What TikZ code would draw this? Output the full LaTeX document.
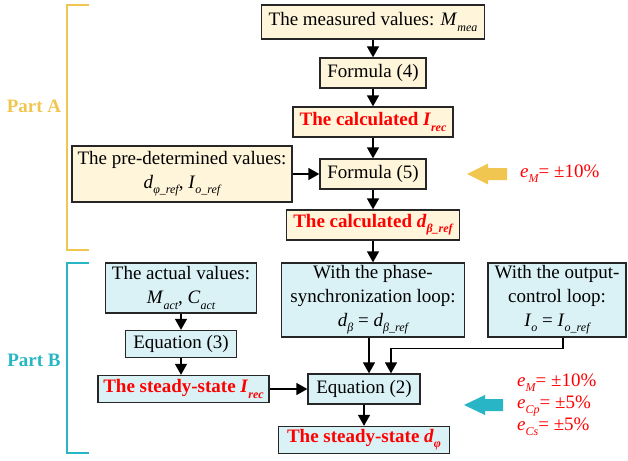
\documentclass[tikz,border=0pt]{standalone}
\usepackage{fontspec}
\setmainfont{Liberation Serif}
\usetikzlibrary{arrows.meta,calc}
\definecolor{boxY}{RGB}{255,245,218}
\definecolor{boxC}{RGB}{218,242,246}
\definecolor{partA}{RGB}{240,198,80}
\definecolor{partB}{RGB}{40,182,198}
\definecolor{redT}{RGB}{255,0,0}
\newcommand\sbs[1]{\raisebox{-0.28em}{\fontsize{12}{12}\selectfont\itshape #1}}
\begin{document}
\begin{tikzpicture}[x=1pt,y=-1pt,
 every node/.style={font=\fontsize{19}{24}\selectfont},
 basebox/.style={draw=black!85,line width=1.3pt,inner sep=0pt,align=center},
 ybox/.style={basebox,fill=boxY},
 cbox/.style={basebox,fill=boxC},
 redt/.style={text=redT,font=\fontsize{19}{24}\selectfont\bfseries},
 arr/.style={-{Triangle[length=11pt,width=12pt]},line width=1.3pt},
 brk/.style={line width=2pt}]
\useasboundingbox (0,0) rectangle (628,460);
% Part A
\node[ybox,minimum width=223pt,minimum height=34pt] (meas) at (373,22) {The measured values: \textit{M}\sbs{mea}};
\node[ybox,minimum width=106pt,minimum height=30pt] (f4) at (373,73) {Formula (4)};
\node[ybox,redt,minimum width=160pt,minimum height=30pt] (irec) at (373,122) {The calculated \textit{I}\sbs{\bfseries rec}};
\node[ybox,minimum width=106pt,minimum height=30pt] (f5) at (373,174) {Formula (5)};
\node[ybox,minimum width=220pt,minimum height=56pt] (pre) at (182,174) {The pre-determined values:\\ \textit{d}\sbs{φ\_ref}, \textit{I}\sbs{o\_ref}};
\node[ybox,redt,minimum width=173pt,minimum height=30pt] (dbref) at (373,225) {The calculated \textit{d}\sbs{\bfseries β\_ref}};
% Part B
\node[cbox,minimum width=151pt,minimum height=50pt] (act) at (181,288) {The actual values:\\ \textit{M}\sbs{act}, \textit{C}\sbs{act}};
\node[cbox,minimum width=111pt,minimum height=27pt] (eq3) at (181,344) {Equation (3)};
\node[cbox,redt,minimum width=171pt,minimum height=27pt] (sirec) at (183.5,389) {The steady-state \textit{I}\sbs{\bfseries rec}};
\node[cbox,minimum width=183pt,minimum height=74pt] (phase) at (373,300) {With the phase-\\synchronization loop:\\ \textit{d}\sbs{β} = \textit{d}\sbs{β\_ref}};
\node[cbox,minimum width=138pt,minimum height=74pt] (outc) at (557,300) {With the output-\\control loop:\\ \textit{I}\sbs{o} = \textit{I}\sbs{o\_ref}};
\node[cbox,minimum width=112pt,minimum height=30pt] (eq2) at (364,389) {Equation (2)};
\node[cbox,redt,minimum width=171pt,minimum height=27pt] (sdphi) at (364,440) {The steady-state \textit{d}\sbs{\bfseries φ}};
% connectors
\draw[arr] (meas) -- (f4);
\draw[arr] (f4) -- (irec);
\draw[arr] (irec) -- (f5);
\draw[arr] (pre) -- (f5);
\draw[arr] (f5) -- (dbref);
\draw[arr] (dbref) -- (phase);
\draw[arr] (act) -- (eq3);
\draw[arr] (eq3) -- (sirec.north -| eq3);
\draw[arr] (sirec) -- (eq2);
\coordinate (pa) at ([xshift=-4pt]phase.south);
\draw[arr] (pa) -- (pa |- eq2.north);
\coordinate (oa) at ([xshift=6pt]outc.south);
\coordinate (ob) at ([xshift=27pt]eq2.north);
\draw[arr] (oa) -- ++(0,11) -| (ob);
\draw[arr] (eq2) -- (sdphi);
% brackets
\draw[partA,brk] (89,5) -- (67,5) -- (67,250) -- (89,250);
\node[text=partA,font=\fontsize{19}{24}\selectfont\bfseries] (la) at (34,106) {Part A};
\draw[partB,brk] (89,263) -- (67,263) -- (67,453) -- (89,453);
\node[text=partB,font=\fontsize{19}{24}\selectfont\bfseries] (lb) at (34,360) {Part B};
% block arrows
\fill[partA] (467,174) -- (488,163.5) -- (488,168) -- (507,168) -- (507,180) -- (488,180) -- (488,184.5) -- cycle;
\node[anchor=west,text=redT,inner sep=0pt] (ea) at (520,174) {\textit{e}\sbs{M}= ±10\%};
\fill[partB] (464,405) -- (485,395) -- (485,399) -- (503,399) -- (503,411) -- (485,411) -- (485,415) -- cycle;
\node[anchor=west,text=redT,inner sep=0pt,align=left,font=\fontsize{19}{22}\selectfont] (eb) at (517,405) {\textit{e}\sbs{M}= ±10\%\\ \textit{e}\sbs{Cp}= ±5\%\\ \textit{e}\sbs{Cs}= ±5\%};
\end{tikzpicture}
\end{document}
